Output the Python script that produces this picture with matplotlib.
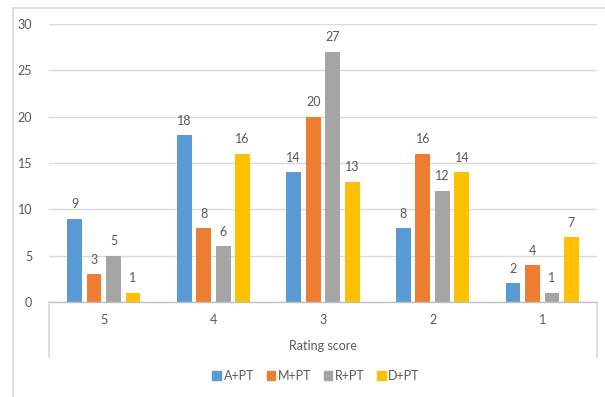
import matplotlib
matplotlib.use("Agg")
import matplotlib.pyplot as plt
from matplotlib.lines import Line2D
from matplotlib.patches import Rectangle
import numpy as np

plt.rcParams['font.family'] = ['Lato', 'DejaVu Sans']

categories = ["5", "4", "3", "2", "1"]
series_names = ["A+PT", "M+PT", "R+PT", "D+PT"]
a_pt = [9, 18, 14, 8, 2]
m_pt = [3, 8, 20, 16, 4]
r_pt = [5, 6, 27, 12, 1]
d_pt = [1, 16, 13, 14, 7]
y_ticks = [0, 5, 10, 15, 20, 25, 30]
x_title = "Rating score"

colors = ["#5B9BD5", "#ED7D31", "#A5A5A5", "#FFC000"]
text_color = "#595959"
grid_color = "#D9D9D9"
axis_color = "#BFBFBF"

W, H = 605, 397
fig = plt.figure(figsize=(W / 100, H / 100), dpi=100)

def fx(px):
    return px / W

def fy(py):
    return 1 - py / H

# chart border (left and top edges visible)
fig.add_artist(Line2D([fx(13), fx(13)], [fy(8), 0], color=grid_color, lw=1.2))
fig.add_artist(Line2D([fx(13), 1], [fy(8), fy(8)], color=grid_color, lw=1.2))

left, right, top, bottom = 49, 597, 24, 302
ax = fig.add_axes([fx(left), fy(bottom), fx(right - left), (bottom - top) / H])

series = [a_pt, m_pt, r_pt, d_pt]
x = np.arange(len(categories))
bar_w = 0.135
step = 0.178
for i, (name, vals, c) in enumerate(zip(series_names, series, colors)):
    pos = x + (i - 1.5) * step
    ax.bar(pos, vals, width=bar_w, color=c, label=name, zorder=3)
    for xp, v in zip(pos, vals):
        ax.annotate(str(v), (xp, v), xytext=(0, 6), textcoords="offset points",
                    ha="center", va="bottom", fontsize=9, color=text_color)

ax.set_xlim(-0.5, len(categories) - 0.5)
ax.set_ylim(0, 30)
ax.set_yticks(y_ticks)
ax.set_xticks(x)
ax.set_xticklabels(categories)
ax.tick_params(axis="both", length=0, labelsize=9, labelcolor=text_color)
ax.tick_params(axis="y", pad=12)
ax.tick_params(axis="x", pad=9)
ax.grid(axis="y", color=grid_color, lw=1, zorder=0)
for s in ["top", "right", "left"]:
    ax.spines[s].set_visible(False)
ax.spines["bottom"].set_color(axis_color)
ax.spines["bottom"].set_linewidth(1)
ax.spines["bottom"].set_zorder(4)

# multi-level category axis box edges
for px in (left, right):
    fig.add_artist(Line2D([fx(px), fx(px)], [fy(bottom), fy(357)], color=grid_color, lw=1.2))

fig.text(fx(323), fy(346), x_title, ha="center", va="center", fontsize=9, color=text_color)

handles = [Rectangle((0, 0), 1, 1, color=c) for c in colors]
fig.legend(handles, series_names, loc="center", bbox_to_anchor=(fx(316), fy(376)),
           ncol=4, frameon=False, fontsize=9, labelcolor=text_color,
           handlelength=0.7, handleheight=0.7, handletextpad=0.2, columnspacing=1.0)

fig.savefig("out.png", dpi=100)
